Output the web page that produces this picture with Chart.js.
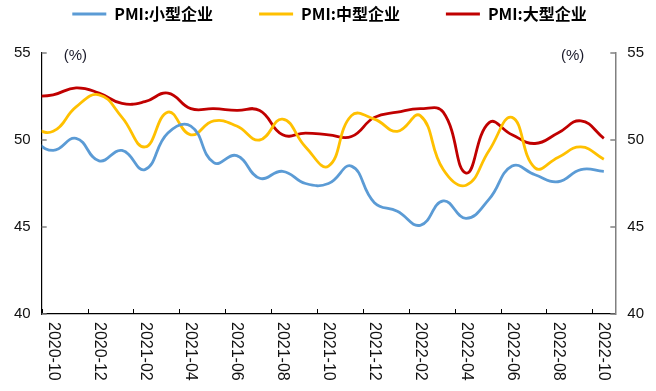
<!DOCTYPE html>
<html>
<head>
<meta charset="utf-8">
<script src="https://cdn.jsdelivr.net/npm/chart.js@4.4.0/dist/chart.umd.min.js"></script>
<style>
body{margin:0;background:#fff}
#wrap{width:656px;height:391px}
</style>
</head>
<body>
<div id="wrap"><canvas id="pmiChart" width="656" height="391"></canvas></div>
<script>
// months, first one (2020-09) sits left of the axis and gets clipped like in the original
const months = ['2020-09','2020-10','2020-11','2020-12','2021-01','2021-02','2021-03','2021-04','2021-05','2021-06',
  '2021-07','2021-08','2021-09','2021-10','2021-11','2021-12','2022-01','2022-02','2022-03','2022-04',
  '2022-05','2022-06','2022-07','2022-08','2022-09','2022-10'];
const smallPMI  = [50.1,49.4,50.1,48.8,49.4,48.3,50.4,50.8,48.7,49.1,47.8,48.2,47.5,47.5,48.5,46.4,45.9,45.1,46.5,45.5,46.6,48.5,48.0,47.6,48.3,48.2];
const mediumPMI = [50.7,50.5,51.9,52.6,51.3,49.6,51.6,50.3,51.1,50.8,50.0,51.2,49.6,48.5,51.4,51.2,50.5,51.4,48.3,47.4,49.4,51.3,48.4,49.0,49.6,48.9];
const largePMI  = [52.5,52.6,53.0,52.7,52.1,52.2,52.7,51.8,51.8,51.7,51.7,50.3,50.4,50.3,50.2,51.3,51.6,51.8,51.6,48.1,51.0,50.3,49.8,50.4,51.1,50.1];
const seriesNames = ['PMI:小型企业','PMI:中型企业','PMI:大型企业'];
const yTicks = [40,45,50,55];

function toPoints(values){
  return values.map((v,i)=>({x:i-1, y:v}));
}

function makeSet(name, values, color){
  return {
    label: name,
    data: toPoints(values),
    borderColor: color,
    backgroundColor: color,
    borderWidth: 2.8,
    pointRadius: 0,
    pointHoverRadius: 0,
    tension: 0.45,
    clip: 0,
    yAxisID: 'y'
  };
}

// extra room under the legend so the plot starts lower
const legendGap = {
  id: 'legendGap',
  beforeInit(chart){
    const fit = chart.legend.fit;
    chart.legend.fit = function(){
      fit.call(this);
      this.height += 21;
    };
  }
};

//draws the rotated month labels, inner tick marks and the (%) notes
const axisExtras = {
  id: 'axisExtras',
  afterDraw(chart){
    const ctx = chart.ctx;
    const area = chart.chartArea;
    const xs = chart.scales.x, yl = chart.scales.y, yr = chart.scales.y2;
    ctx.save();
    ctx.lineWidth = 1;
    ctx.strokeStyle = '#000';
    for (let v = -0.5; v < 24.5; v += 2) {
      const px = Math.round(xs.getPixelForValue(v)) + 0.5;
      ctx.beginPath(); ctx.moveTo(px, area.bottom); ctx.lineTo(px, area.bottom - 5); ctx.stroke();
    }
    ctx.strokeStyle = '#808080';
    ctx.lineWidth = 1.5;
    yTicks.forEach(t => {
      const py = Math.round(yl.getPixelForValue(t));
      ctx.beginPath(); ctx.moveTo(area.left, py); ctx.lineTo(area.left + 5, py); ctx.stroke();
      const py2 = Math.round(yr.getPixelForValue(t));
      ctx.beginPath(); ctx.moveTo(area.right, py2); ctx.lineTo(area.right - 5, py2); ctx.stroke();
    });
    ctx.fillStyle = '#111';
    ctx.font = '16px "Liberation Sans"';
    ctx.textAlign = 'left';
    ctx.textBaseline = 'middle';
    months.forEach((m,i) => {
      const v = i - 1;
      if (v < 0 || v % 2) return;
      ctx.save();
      ctx.translate(xs.getPixelForValue(v), area.bottom + 8);
      ctx.rotate(Math.PI/2);
      ctx.fillText(m, 0, 0);
      ctx.restore();
    });
    ctx.font = '15px "Liberation Sans"';
    ctx.fillStyle = '#1a1a2a';
    ctx.fillText('(%)', area.left + 22, area.top + 3);
    ctx.textAlign = 'right';
    ctx.fillText('(%)', area.right - 31, area.top + 3);
    ctx.restore();
  }
};

const ctx = document.getElementById('pmiChart').getContext('2d');
const chart = new Chart(ctx, {
  type: 'line',
  data: {
    datasets: [
      makeSet(seriesNames[0], smallPMI, '#5B9BD5'),
      makeSet(seriesNames[1], mediumPMI, '#FFC000'),
      makeSet(seriesNames[2], largePMI, '#C00000')
    ]
  },
  options: {
    responsive: false,
    animation: false,
    layout: { padding: { left: 3, right: 0, top: 0, bottom: 77 } },
    plugins: {
      tooltip: { enabled: false },
      legend: {
        position: 'top',
        labels: {
          boxWidth: 34,
          boxHeight: 3,
          padding: 6,
          color: '#000',
          font: { family: '"Noto Sans CJK SC"', size: 16, weight: 'bold' },
          generateLabels(chart){
            return chart.data.datasets.map((ds,i) => ({
              text: i < 2 ? ds.label + '\u3000\u3000\u2002' : ds.label,
              fillStyle: ds.borderColor,
              strokeStyle: ds.borderColor,
              lineWidth: 0,
              datasetIndex: i
            }));
          }
        }
      }
    },
    scales: {
      x: {
        type: 'linear',
        min: -0.5,
        max: 24.5,
        grid: { display: false, drawTicks: false },
        ticks: { display: false },
        border: { display: true, color: '#000', width: 1.2 }
      },
      y: {
        position: 'left',
        min: 40, max: 55,
        afterBuildTicks(scale){ scale.ticks = yTicks.map(v => ({value: v})); },
        grid: { display: false, drawTicks: false },
        border: { display: true, color: '#000', width: 1.2 },
        ticks: { padding: 11, color: '#111', font: { family: '"Liberation Sans"', size: 15 } }
      },
      y2: {
        position: 'right',
        min: 40, max: 55,
        afterBuildTicks(scale){ scale.ticks = yTicks.map(v => ({value: v})); },
        grid: { display: false, drawTicks: false },
        border: { display: true, color: '#808080', width: 1.5 },
        ticks: { padding: 12, color: '#111', font: { family: '"Liberation Sans"', size: 15 } }
      }
    }
  },
  plugins: [legendGap, axisExtras]
});
</script>
</body>
</html>
